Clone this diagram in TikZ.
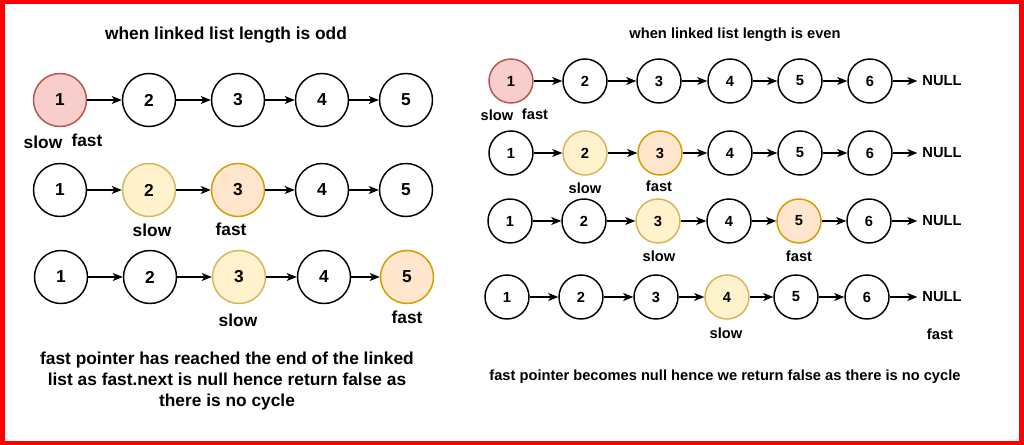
\documentclass[tikz,border=0pt]{standalone}
\usepackage{fontspec}
\setmainfont{Liberation Sans}
\usetikzlibrary{arrows.meta}

\definecolor{pinkbg}{HTML}{F8CECC}
\definecolor{pinkline}{HTML}{B85450}
\definecolor{yellowbg}{HTML}{FFF2CC}
\definecolor{yellowline}{HTML}{D6B656}
\definecolor{orangebg}{HTML}{FFE6CC}
\definecolor{orangeline}{HTML}{D79B00}

\begin{document}
\begin{tikzpicture}[x=0.75pt, y=-0.75pt, line width=1pt,
	big/.style={circle, draw, line width=1.1pt, minimum size=39.75pt, inner sep=0pt, font=\fontsize{13}{15}\bfseries},
	small/.style={circle, draw, line width=1.1pt, minimum size=33pt, inner sep=0pt, font=\fontsize{11}{13}\bfseries},
	bigtxt/.style={font=\fontsize{13}{15.75}\bfseries},
	smalltxt/.style={font=\fontsize{11}{13}\bfseries},
	pinknode/.style={fill=pinkbg, draw=pinkline},
	slownode/.style={fill=yellowbg, draw=yellowline},
	fastnode/.style={fill=orangebg, draw=orangeline},
	link/.style={-{Stealth[length=7.5pt, width=6pt, inset=2pt]}}]

				% frame
				\fill[red] (0,0) rectangle (1024,445);
				\fill[white] (4.5,4.5) rectangle (1019,441);

				% odd length
				\node[bigtxt] (oddtitle) at (226,35) {when linked list length is odd};

				\node[big, pinknode] (oa1) at (60,100) {1};
				\node[big] (oa2) at (149,100) {2};
				\node[big] (oa3) at (238,100) {3};
				\node[big] (oa4) at (322,100) {4};
				\node[big] (oa5) at (406,100) {5};
				\draw[link] (oa1) -- (oa2);
				\draw[link] (oa2) -- (oa3);
				\draw[link] (oa3) -- (oa4);
				\draw[link] (oa4) -- (oa5);
				\node[bigtxt] (oaslow) at (43,142) {slow};
				\node[bigtxt] (oafast) at (87,140) {fast};

				\node[big] (ob1) at (60,190) {1};
				\node[big, slownode] (ob2) at (149,190) {2};
				\node[big, fastnode] (ob3) at (238,190) {3};
				\node[big] (ob4) at (322,190) {4};
				\node[big] (ob5) at (406,190) {5};
				\draw[link] (ob1) -- (ob2);
				\draw[link] (ob2) -- (ob3);
				\draw[link] (ob3) -- (ob4);
				\draw[link] (ob4) -- (ob5);
				\node[bigtxt] (obslow) at (152,230) {slow};
				\node[bigtxt] (obfast) at (231,229) {fast};

				\node[big] (oc1) at (61,277) {1};
				\node[big] (oc2) at (150,277) {2};
				\node[big, slownode] (oc3) at (239,277) {3};
				\node[big] (oc4) at (324,277) {4};
				\node[big, fastnode] (oc5) at (407,277) {5};
				\draw[link] (oc1) -- (oc2);
				\draw[link] (oc2) -- (oc3);
				\draw[link] (oc3) -- (oc4);
				\draw[link] (oc4) -- (oc5);
				\node[bigtxt] (ocslow) at (238,320) {slow};
				\node[bigtxt] (ocfast) at (407,317) {fast};

				\node[bigtxt, align=center] (oddnote) at (227,381)
					{fast pointer has reached the end of the linked\\list as fast.next is null hence return false as\\there is no cycle};

				% even length
				\node[smalltxt] (eventitle) at (735,35) {when linked list length is even};

				\node[small, pinknode] (ea1) at (511,81) {1};
				\node[small] (ea2) at (585,81) {2};
				\node[small] (ea3) at (659,81) {3};
				\node[small] (ea4) at (730,81) {4};
				\node[small] (ea5) at (800,81) {5};
				\node[small] (ea6) at (870,81) {6};
				\node[smalltxt] (eanull) at (942,81) {NULL};
				\draw[link] (ea1) -- (ea2);
				\draw[link] (ea2) -- (ea3);
				\draw[link] (ea3) -- (ea4);
				\draw[link] (ea4) -- (ea5);
				\draw[link] (ea5) -- (ea6);
				\draw[link] (ea6) -- (eanull);
				\node[smalltxt] (easlow) at (497,115) {slow};
				\node[smalltxt] (eafast) at (535,114) {fast};

				\node[small] (eb1) at (511,153) {1};
				\node[small, slownode] (eb2) at (585,153) {2};
				\node[small, fastnode] (eb3) at (660,153) {3};
				\node[small] (eb4) at (730,153) {4};
				\node[small] (eb5) at (800,153) {5};
				\node[small] (eb6) at (870,153) {6};
				\node[smalltxt] (ebnull) at (942,153) {NULL};
				\draw[link] (eb1) -- (eb2);
				\draw[link] (eb2) -- (eb3);
				\draw[link] (eb3) -- (eb4);
				\draw[link] (eb4) -- (eb5);
				\draw[link] (eb5) -- (eb6);
				\draw[link] (eb6) -- (ebnull);
				\node[smalltxt] (ebslow) at (585,188) {slow};
				\node[smalltxt] (ebfast) at (659,186) {fast};

				\node[small] (ec1) at (510,221) {1};
				\node[small] (ec2) at (584,221) {2};
				\node[small, slownode] (ec3) at (658,221) {3};
				\node[small] (ec4) at (729,221) {4};
				\node[small, fastnode] (ec5) at (799,221) {5};
				\node[small] (ec6) at (869,221) {6};
				\node[smalltxt] (ecnull) at (942,221) {NULL};
				\draw[link] (ec1) -- (ec2);
				\draw[link] (ec2) -- (ec3);
				\draw[link] (ec3) -- (ec4);
				\draw[link] (ec4) -- (ec5);
				\draw[link] (ec5) -- (ec6);
				\draw[link] (ec6) -- (ecnull);
				\node[smalltxt] (ecslow) at (659,256) {slow};
				\node[smalltxt] (ecfast) at (799,256) {fast};

				\node[small] (ed1) at (507,297) {1};
				\node[small] (ed2) at (581,297) {2};
				\node[small] (ed3) at (656,297) {3};
				\node[small, slownode] (ed4) at (727,297) {4};
				\node[small] (ed5) at (796,297) {5};
				\node[small] (ed6) at (867,297) {6};
				\node[smalltxt] (ednull) at (942,297) {NULL};
				\draw[link] (ed1) -- (ed2);
				\draw[link] (ed2) -- (ed3);
				\draw[link] (ed3) -- (ed4);
				\draw[link] (ed4) -- (ed5);
				\draw[link] (ed5) -- (ed6);
				\draw[link] (ed6) -- (ednull);
				\node[smalltxt] (edslow) at (726,333) {slow};
				\node[smalltxt] (edfast) at (940,334) {fast};

				\node[smalltxt] (evennote) at (725,377)
					{fast pointer becomes null hence we return false as there is no cycle};

\end{tikzpicture}
\end{document}
